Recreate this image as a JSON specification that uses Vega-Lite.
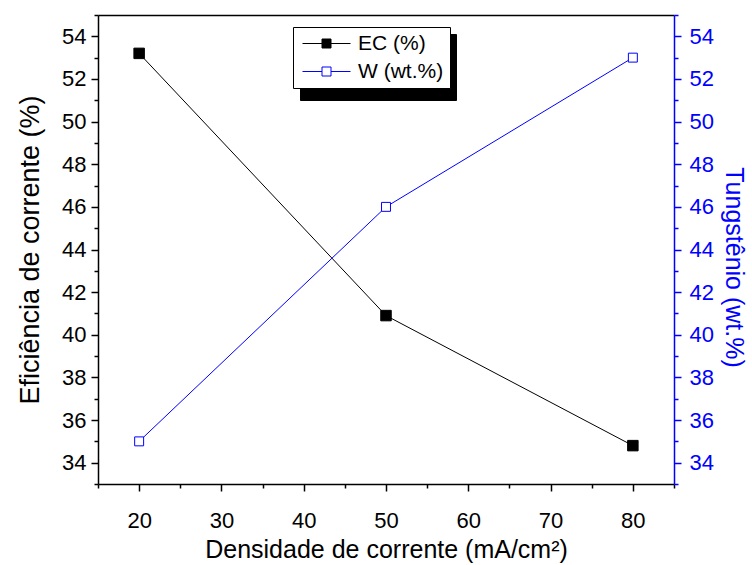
{
  "$schema": "https://vega.github.io/schema/vega-lite/v6.json",
  "autosize": "none",
  "width": 576,
  "height": 469,
  "padding": {"left": 98, "top": 15, "right": 78, "bottom": 81},
  "background": "white",
  "data": {"values": [
    {"densidade": 20, "ec": 53.2, "w": 35.0},
    {"densidade": 50, "ec": 40.9, "w": 46.0},
    {"densidade": 80, "ec": 34.8, "w": 53.0}
  ]},
  "config": {
    "font": "Liberation Sans",
    "view": {"stroke": null},
    "axis": {"grid": false, "labelFont": "Liberation Sans", "titleFont": "Liberation Sans", "labelFontSize": 22, "titleFontSize": 27, "titleFontWeight": "normal", "domainWidth": 1.5, "tickWidth": 1.5},
    "legend": {
      "orient": "none", "legendX": 195, "legendY": 12,
      "fillColor": "white", "strokeColor": "black", "padding": 6, "rowPadding": 6,
      "labelFontSize": 21, "labelFont": "Liberation Sans", "labelColor": "black", "labelOffset": 38,
      "symbolType": "M-0.7,0H1.25M2.15,0H4.1M1.25,-0.45H2.15V0.45H1.25Z",
      "symbolSize": 400, "symbolStrokeWidth": 1
    }
  },
  "resolve": {"scale": {"y": "independent"}, "axis": {"x": "independent"}},
  "layer": [
    {
      "encoding": {
        "x": {"field": "densidade", "type": "quantitative", "scale": {"domain": [15, 85], "nice": false, "zero": false},
          "axis": {"orient": "bottom", "title": "Densidade de corrente (mA/cm²)", "titleFontSize": 25, "values": [15,20,25,30,35,40,45,50,55,60,65,70,75,80,85],
            "labelExpr": "datum.value % 10 === 0 ? datum.label : ''",
            "tickSize": {"condition": {"test": "datum.value % 10 === 0", "value": 7}, "value": 4},
            "domainColor": "black", "tickColor": "black", "labelColor": "black", "titleColor": "black", "labelPadding": 19, "titlePadding": 6}},
        "y": {"field": "ec", "type": "quantitative", "scale": {"domain": [33, 55], "nice": false, "zero": false},
          "axis": {"orient": "left", "title": "Eficiência de corrente (%)", "values": [33,34,35,36,37,38,39,40,41,42,43,44,45,46,47,48,49,50,51,52,53,54,55],
            "labelExpr": "datum.value % 2 === 0 ? datum.label : ''",
            "tickSize": {"condition": {"test": "datum.value % 2 === 0", "value": 7}, "value": 4},
            "domainColor": "black", "tickColor": "black", "labelColor": "black", "titleColor": "black", "labelPadding": 5, "titlePadding": 17}}
      },
      "layer": [
        {"mark": {"type": "line", "strokeWidth": 1},
         "encoding": {"stroke": {"datum": "EC (%)", "scale": {"domain": ["EC (%)", "W (wt.%)"], "range": ["black", "blue"]}, "legend": {"title": null, "zindex": 1}}}},
        {"mark": {"type": "point", "filled": true, "opacity": 1, "size": 110, "strokeWidth": 1},
         "encoding": {
           "stroke": {"datum": "EC (%)", "scale": {"domain": ["EC (%)", "W (wt.%)"], "range": ["black", "blue"]}, "legend": {"title": null, "zindex": 1}},
           "fill": {"datum": "EC (%)", "scale": {"domain": ["EC (%)", "W (wt.%)"], "range": ["black", "white"]}, "legend": {"title": null, "zindex": 1}},
           "shape": {"datum": "EC (%)", "scale": {"domain": ["EC (%)", "W (wt.%)", "-"], "range": ["square", "square", "square"]},
             "legend": {"title": null, "zindex": 0, "values": ["EC (%)", "W (wt.%)"], "legendX": 202, "legendY": 19, "fillColor": "black", "strokeColor": "black", "labelColor": "black", "labelExpr": "''", "labelOffset": 123, "symbolFillColor": "black", "symbolStrokeColor": "black"}}}}
      ]
    },
    {
      "encoding": {
        "x": {"field": "densidade", "type": "quantitative", "scale": {"domain": [15, 85], "nice": false, "zero": false},
          "axis": {"orient": "top", "title": null, "labels": false, "ticks": false, "domainColor": "black"}},
        "y": {"field": "w", "type": "quantitative", "scale": {"domain": [33, 55], "nice": false, "zero": false},
          "axis": {"orient": "right", "title": "Tungstênio (wt.%)", "titleFontSize": 25, "titleY": 252, "values": [33,34,35,36,37,38,39,40,41,42,43,44,45,46,47,48,49,50,51,52,53,54,55],
            "labelExpr": "datum.value % 2 === 0 ? datum.label : ''",
            "tickSize": {"condition": {"test": "datum.value % 2 === 0", "value": 7}, "value": 4},
            "domainColor": "blue", "tickColor": "blue", "labelColor": "blue", "titleColor": "blue", "labelPadding": 8, "titlePadding": 7}}
      },
      "layer": [
        {"mark": {"type": "line", "strokeWidth": 1},
         "encoding": {"stroke": {"datum": "W (wt.%)", "scale": {"domain": ["EC (%)", "W (wt.%)"], "range": ["black", "blue"]}, "legend": {"title": null, "zindex": 1}}}},
        {"mark": {"type": "point", "filled": true, "opacity": 1, "size": 80, "strokeWidth": 1},
         "encoding": {
           "stroke": {"datum": "W (wt.%)", "scale": {"domain": ["EC (%)", "W (wt.%)"], "range": ["black", "blue"]}, "legend": {"title": null, "zindex": 1}},
           "fill": {"datum": "W (wt.%)", "scale": {"domain": ["EC (%)", "W (wt.%)"], "range": ["black", "white"]}, "legend": {"title": null, "zindex": 1}},
           "shape": {"datum": "W (wt.%)", "scale": {"domain": ["EC (%)", "W (wt.%)", "-"], "range": ["square", "square", "square"]},
             "legend": {"title": null, "zindex": 0, "values": ["EC (%)", "W (wt.%)"], "legendX": 202, "legendY": 19, "fillColor": "black", "strokeColor": "black", "labelColor": "black", "labelExpr": "''", "labelOffset": 123, "symbolFillColor": "black", "symbolStrokeColor": "black"}}}}
      ]
    }
  ]
}
